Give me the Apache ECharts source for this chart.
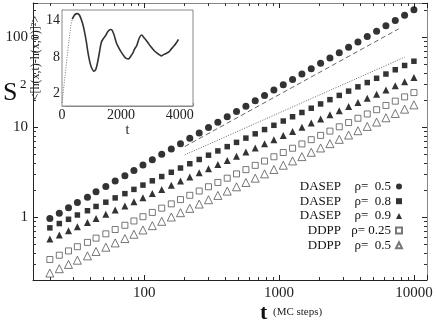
<!DOCTYPE html>
<html>
<head>
<meta charset="utf-8">
<script src="https://cdn.jsdelivr.net/npm/echarts@6/dist/echarts.min.js"></script>
<style>
  html, body { margin: 0; padding: 0; background: #fff; }
  #chart { width: 436px; height: 324px; }
</style>
</head>
<body>
<div id="chart"></div>
<script>
// MC steps (log spaced)
const tSteps = [20, 23.5, 27.5, 32, 38, 44, 52, 61, 72, 84, 98, 115, 135, 159, 186, 218, 256, 300, 352, 413,
  484, 568, 666, 781, 916, 1075, 1260, 1478, 1733, 2033, 2384, 2796, 3279, 3845, 4509, 5289, 6201, 7273, 8530, 10000];

const dasep05 = [0.964, 1.105, 1.268, 1.454, 1.667, 1.912, 2.193, 2.515, 2.884, 3.308, 3.793, 4.35, 4.989, 5.721, 6.561,
  7.524, 8.63, 9.897, 11.35, 13.02, 14.93, 17.12, 19.63, 22.52, 25.82, 29.61, 33.96, 38.95, 44.67, 51.23, 58.75, 67.38,
  77.27, 88.62, 101.6, 116.5, 133.7, 153.3, 175.8, 201.6];
const dasep08 = [0.76, 0.848, 0.946, 1.056, 1.178, 1.314, 1.465, 1.635, 1.824, 2.034, 2.27, 2.532, 2.824, 3.151, 3.515,
  3.922, 4.374, 4.88, 5.444, 6.073, 6.775, 7.557, 8.431, 9.404, 10.49, 11.7, 13.05, 14.56, 16.24, 18.12, 20.22, 22.55,
  25.16, 28.07, 31.31, 34.93, 38.96, 43.46, 48.48, 54.09];
const dasep09 = [0.57, 0.634, 0.705, 0.784, 0.871, 0.968, 1.077, 1.197, 1.331, 1.48, 1.645, 1.829, 2.034, 2.262, 2.514,
  2.796, 3.108, 3.455, 3.842, 4.272, 4.749, 5.28, 5.871, 6.527, 7.256, 8.068, 8.97, 9.973, 11.09, 12.33, 13.71, 15.24,
  16.94, 18.84, 20.94, 23.29, 25.89, 28.79, 32.0, 35.58];
const ddpp025 = [0.338, 0.377, 0.421, 0.469, 0.524, 0.584, 0.652, 0.728, 0.812, 0.906, 1.011, 1.128, 1.259, 1.404, 1.567,
  1.748, 1.951, 2.176, 2.428, 2.709, 3.023, 3.373, 3.763, 4.2, 4.686, 5.228, 5.833, 6.509, 7.261, 8.101, 9.04, 10.09,
  11.25, 12.56, 14.01, 15.63, 17.44, 19.46, 21.71, 24.23];
const ddpp05 = [0.239, 0.267, 0.298, 0.332, 0.371, 0.415, 0.463, 0.517, 0.578, 0.645, 0.72, 0.804, 0.898, 1.003, 1.12,
  1.251, 1.397, 1.56, 1.742, 1.946, 2.173, 2.427, 2.71, 3.026, 3.38, 3.774, 4.214, 4.706, 5.256, 5.869, 6.554, 7.319,
  8.174, 9.129, 10.19, 11.39, 12.71, 14.2, 15.85, 17.7];

// guide lines (end points)
const dashedT = [200, 7700];
const dashedS = [6.09, 123.7];
const dottedT = [200, 8530];
const dottedS = [4.92, 60];

// inset: <[h(x,t)-h(x,0)]^2> vs t
const insetRiseT = [0, 100, 200, 300, 350];
const insetRiseV = [0.5, 4.8, 9.2, 13.2, 14.2];
const insetT = [350, 430, 520, 600, 700, 770, 830, 880, 940, 1000, 1085, 1150, 1220, 1280, 1335, 1400, 1480, 1560, 1650,
  1700, 1770, 1843, 1930, 2013, 2100, 2180, 2260, 2330, 2400, 2464, 2540, 2633, 2712, 2780, 2850, 2915, 3000, 3070,
  3142, 3220, 3300, 3370, 3450, 3539, 3620, 3708, 3800, 3880, 3956];
const insetV = [14.2, 14.9, 15.1, 14.8, 13.5, 12.0, 10.4, 8.8, 7.3, 6.3, 5.7, 6.0, 7.4, 9.0, 10.4, 11.0, 11.5, 12.2, 12.5,
  12.4, 11.6, 10.4, 9.5, 8.8, 8.2, 7.8, 7.7, 8.1, 8.6, 9.3, 9.9, 11.2, 11.6, 11.2, 10.8, 10.4, 9.8, 9.4,
  9.0, 8.7, 8.4, 8.2, 8.4, 8.6, 8.8, 9.3, 9.8, 10.3, 10.9];

const seriesNames = ['DASEP|ρ=  0.5', 'DASEP|ρ=  0.8', 'DASEP|ρ=  0.9', 'DDPP|ρ= 0.25', 'DDPP|ρ=  0.5'];
const seriesVals = [dasep05, dasep08, dasep09, ddpp025, ddpp05];

const serif = 'Liberation Serif';
const pairs = (xs, ys) => xs.map((x, i) => [x, ys[i]]);

const symbols = [
  { symbol: 'circle', symbolSize: 7, itemStyle: { color: '#000' } },
  { symbol: 'rect', symbolSize: 5.5, itemStyle: { color: '#000' } },
  { symbol: 'triangle', symbolSize: 7, itemStyle: { color: '#000' } },
  { symbol: 'rect', symbolSize: 6, itemStyle: { color: '#fff', borderColor: '#555', borderWidth: 1 } },
  { symbol: 'triangle', symbolSize: 8, itemStyle: { color: '#fff', borderColor: '#555', borderWidth: 1 } },
];

const logX = {
  type: 'log', min: 15, max: 12500, gridIndex: 0,
  axisLine: { lineStyle: { color: '#222' } },
  axisTick: { inside: true, length: 5, lineStyle: { color: '#222' } },
  minorTick: { show: true, splitNumber: 9, length: 3, lineStyle: { color: '#333' } },
  splitLine: { show: false },
};
const logY = {
  type: 'log', min: 0.2, max: 240, gridIndex: 0,
  axisLine: { lineStyle: { color: '#222' } },
  axisTick: { inside: true, length: 5, lineStyle: { color: '#222' } },
  minorTick: { show: true, splitNumber: 9, length: 3, lineStyle: { color: '#333' } },
  splitLine: { show: false },
};

const scatterSeries = seriesNames.map((name, i) => Object.assign({
  name: name,
  type: 'scatter',
  xAxisIndex: 0,
  yAxisIndex: 0,
  data: pairs(tSteps, seriesVals[i]),
  z: 3,
}, symbols[i]));

const myChart = echarts.init(document.getElementById('chart'));
myChart.setOption({
  animation: false,
  backgroundColor: '#fff',
  grid: [
    { left: 33, right: 9, top: 3, bottom: 44, show: false },
    { left: 62, right: 243, top: 10, bottom: 218, show: true, backgroundColor: '#fff', borderColor: '#888', borderWidth: 1, z: 4 },
  ],
  xAxis: [
    Object.assign({}, logX, {
      position: 'bottom',
      axisLabel: {
        fontFamily: serif, fontSize: 15, color: '#222', margin: 6,
        showMinLabel: false, showMaxLabel: false,
        formatter: (v) => String(v),
      },
    }),
    Object.assign({}, logX, {
      position: 'top',
      axisLine: { lineStyle: { color: '#888' } },
      axisLabel: { show: false },
    }),
    {
      type: 'value', gridIndex: 1, min: 0, max: 4450, interval: 2000,
      name: 't', nameLocation: 'middle', nameGap: 17,
      nameTextStyle: { fontFamily: serif, fontSize: 14, color: '#222' },
      axisLine: { lineStyle: { color: '#888' } },
      axisTick: { inside: true, length: 3, lineStyle: { color: '#888' } },
      minorTick: { show: true, splitNumber: 4, length: 2, lineStyle: { color: '#aaa' } },
      axisLabel: {
        fontFamily: serif, fontSize: 14, color: '#222', margin: 2,
        showMaxLabel: false,
        formatter: (v) => String(v),
      },
      splitLine: { show: false },
    },
  ],
  yAxis: [
    Object.assign({}, logY, {
      position: 'left',
      axisLabel: {
        fontFamily: serif, fontSize: 15, color: '#222', margin: 5,
        showMinLabel: false, showMaxLabel: false,
        formatter: (v) => String(v),
      },
    }),
    Object.assign({}, logY, {
      position: 'right',
      axisLine: { lineStyle: { color: '#888' } },
      axisLabel: { show: false },
    }),
    {
      type: 'value', gridIndex: 1, min: 0, max: 15.7, interval: 2,
      name: '<[h(x,t)-h(x,0)]²>', nameLocation: 'middle', nameGap: 20,
      nameTextStyle: { fontFamily: serif, fontSize: 12, color: '#222' },
      axisLine: { lineStyle: { color: '#888' } },
      axisTick: { inside: true, length: 3, lineStyle: { color: '#aaa' } },
      axisLabel: {
        fontFamily: serif, fontSize: 14, color: '#222', margin: 2,
        showMaxLabel: false,
        formatter: (v) => ((v - 2) % 6 === 0 ? String(v) : ''),
      },
      splitLine: { show: false },
    },
  ],
  legend: {
    orient: 'vertical',
    align: 'right',
    right: 28,
    top: 175,
    itemGap: 1.7,
    itemWidth: 6,
    itemHeight: 6,
    data: seriesNames,
    formatter: (name) => {
      const p = name.split('|');
      return '{a|' + p[0] + '}{b|' + p[1] + '}';
    },
    textStyle: {
      fontFamily: serif,
      fontSize: 13,
      color: '#111',
      rich: {
        a: { width: 47, fontFamily: serif, fontSize: 13, lineHeight: 14 },
        b: { width: 50, fontFamily: serif, fontSize: 13, lineHeight: 14 },
      },
    },
  },
  graphic: [
    { type: 'text', left: 3, top: 80, style: { text: 'S', font: '26px "Liberation Serif"', fill: '#111' } },
    { type: 'text', left: 20, top: 78, style: { text: '2', font: '13px "Liberation Serif"', fill: '#111' } },
    { type: 'text', left: 260, top: 302, style: { text: 't', font: 'bold 22px "Liberation Serif"', fill: '#111' } },
    { type: 'text', left: 273, top: 307, style: { text: '(MC steps)', font: '11px "Liberation Serif"', fill: '#222' } },
  ],
  series: scatterSeries.concat([
    {
      type: 'line', xAxisIndex: 0, yAxisIndex: 0, symbol: 'none', silent: true,
      data: pairs(dashedT, dashedS),
      lineStyle: { color: '#666', width: 1, type: [5, 3] },
    },
    {
      type: 'line', xAxisIndex: 0, yAxisIndex: 0, symbol: 'none', silent: true,
      data: pairs(dottedT, dottedS),
      lineStyle: { color: '#666', width: 1, type: [1, 1.5] },
    },
    {
      type: 'line', xAxisIndex: 2, yAxisIndex: 2, symbol: 'none', silent: true, z: 5,
      data: pairs(insetRiseT, insetRiseV),
      lineStyle: { color: '#777', width: 1, type: [1, 1.5] },
    },
    {
      type: 'line', xAxisIndex: 2, yAxisIndex: 2, symbol: 'none', silent: true, smooth: 0.3, z: 5,
      data: pairs(insetT, insetV),
      lineStyle: { color: '#333', width: 1.6 },
    },
  ]),
});
</script>
</body>
</html>
